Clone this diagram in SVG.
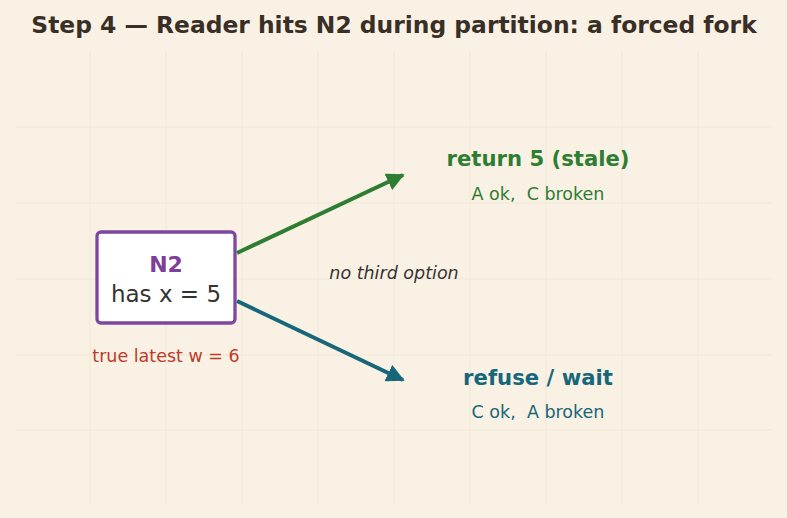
<svg xmlns="http://www.w3.org/2000/svg" width="787" height="518" viewBox="0 0 787 518">
<defs>
<style>
.t{font-family:"DejaVu Sans","Liberation Sans",sans-serif;text-anchor:middle;white-space:pre}
.grid line{stroke:#f0e7d6;stroke-width:1}
</style>
<marker id="ag" viewBox="0 0 10 10" refX="9" refY="5" markerWidth="4.5" markerHeight="4.5" orient="auto" markerUnits="strokeWidth"><path d="M0,0 L10,5 L0,10 z" fill="#2e7d32"/></marker>
<marker id="at" viewBox="0 0 10 10" refX="9" refY="5" markerWidth="4.5" markerHeight="4.5" orient="auto" markerUnits="strokeWidth"><path d="M0,0 L10,5 L0,10 z" fill="#17667a"/></marker>
</defs>
<rect width="787" height="518" fill="#f9f2e4"/>
<g class="grid">
<line x1="90" y1="52" x2="90" y2="503"/><line x1="166" y1="52" x2="166" y2="503"/><line x1="242" y1="52" x2="242" y2="503"/><line x1="318" y1="52" x2="318" y2="503"/><line x1="394" y1="52" x2="394" y2="503"/><line x1="470" y1="52" x2="470" y2="503"/><line x1="546" y1="52" x2="546" y2="503"/><line x1="622" y1="52" x2="622" y2="503"/><line x1="698" y1="52" x2="698" y2="503"/>
<line x1="16" y1="127" x2="772" y2="127"/><line x1="16" y1="203" x2="772" y2="203"/><line x1="16" y1="279" x2="772" y2="279"/><line x1="16" y1="355" x2="772" y2="355"/><line x1="16" y1="430" x2="772" y2="430"/>
</g>
<text class="t" x="394" y="33" font-size="23.4" font-weight="bold" fill="#3a2f27">Step 4 — Reader hits N2 during partition: a forced fork</text>
<g id="connectors" fill="none" stroke-width="4">
<line x1="237" y1="253" x2="403" y2="175" stroke="#2e7d32" marker-end="url(#ag)"/>
<line x1="237" y1="301" x2="403" y2="380" stroke="#17667a" marker-end="url(#at)"/>
</g>
<g id="n2">
<rect x="97" y="232" width="138" height="91" rx="4" fill="#ffffff" stroke="#7d479e" stroke-width="3.3"/>
<text class="t" x="166" y="272" font-size="22" font-weight="bold" fill="#7d3f9b">N2</text>
<text class="t" x="166" y="302" font-size="23" fill="#333333">has x = 5</text>
<text class="t" x="166" y="362" font-size="17.5" fill="#c0392b">true latest w = 6</text>
</g>
<g id="return">
<text class="t" x="538" y="166" font-size="21.2" font-weight="bold" fill="#2e7d32">return 5 (stale)</text>
<text class="t" x="538" y="200" font-size="17.5" fill="#2e7d32">A ok,  C broken</text>
</g>
<g id="refuse">
<text class="t" x="538" y="385" font-size="21.2" font-weight="bold" fill="#17667a">refuse / wait</text>
<text class="t" x="538" y="418" font-size="17.5" fill="#17667a">C ok,  A broken</text>
</g>
<text class="t" x="394" y="279" font-size="17.5" font-style="italic" fill="#333333">no third option</text>
</svg>
